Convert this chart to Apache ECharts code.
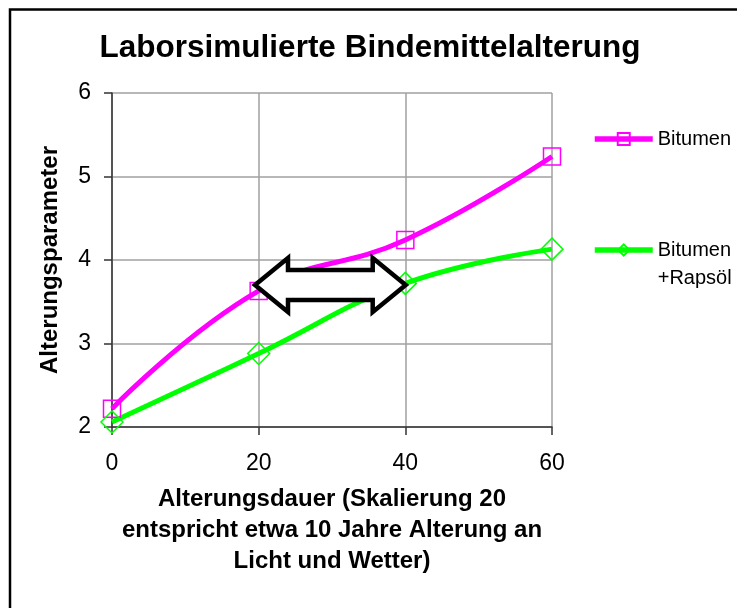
<!DOCTYPE html>
<html>
<head>
<meta charset="utf-8">
<script src="https://cdn.jsdelivr.net/npm/echarts@6/dist/echarts.min.js"></script>
<style>
  html, body { margin: 0; padding: 0; background: #fff; }
  #chart { width: 737px; height: 608px; }
</style>
</head>
<body>
<div id="chart"></div>
<script>
var xValues = [0, 20, 40, 60];
var bitumen = [2.22, 3.63, 4.24, 5.24];
var rapsoel = [2.06, 2.88, 3.72, 4.13];
var xTicks = [0, 20, 40, 60];
var yTicks = [2, 3, 4, 5, 6];
// double arrow between the curves, in data units
var arrowFrom = [19.5, 3.7];
var arrowTo = [40.05, 3.7];

var font = "'Liberation Sans', Arial, sans-serif";

function pairs(ys) {
  return xValues.map(function (x, i) { return [x, ys[i]]; });
}

var chart = echarts.init(document.getElementById("chart"));
chart.setOption({
  animation: false,
  textStyle: { fontFamily: font },
  title: {
    text: "Laborsimulierte Bindemittelalterung",
    left: 365,
    textAlign: "center",
    top: 27,
    textStyle: { fontSize: 31.5, fontWeight: "bold", color: "#000" }
  },
  legend: [
    {
      data: ["Bitumen"],
      left: 592,
      top: 129,
      padding: 0,
      itemWidth: 58,
      itemHeight: 15,
      itemGap: 0,
      lineStyle: { width: 5.5 },
      textStyle: { fontSize: 20, color: "#000" }
    },
    {
      data: ["Rapsoel"],
      left: 592,
      top: 208,
      padding: 0,
      itemWidth: 58,
      itemHeight: 14,
      itemGap: 0,
      lineStyle: { width: 5.5 },
      // empty first line so that "Bitumen" sits level with the icon
      formatter: function () { return " \nBitumen\n+Rapsöl"; },
      textStyle: { fontSize: 20, color: "#000", lineHeight: 28 }
    }
  ],
  grid: { left: 112, right: 185, top: 93, bottom: 181 },
  xAxis: {
    type: "value",
    min: 0,
    max: 60,
    interval: 20,
    name: "Alterungsdauer (Skalierung 20\nentspricht etwa 10 Jahre Alterung an\nLicht und Wetter)",
    nameLocation: "middle",
    nameGap: 57,
    nameTextStyle: { fontSize: 24, fontWeight: "bold", color: "#000", lineHeight: 31 },
    axisLine: { lineStyle: { color: "#333", width: 1.5 } },
    axisTick: { length: 8, lineStyle: { color: "#333", width: 1.5 } },
    axisLabel: { fontSize: 23, color: "#000", margin: 25 },
    splitLine: { show: true, lineStyle: { color: "#a0a0a0", width: 1.5 } }
  },
  yAxis: {
    type: "value",
    min: 2,
    max: 6,
    interval: 1,
    name: "Alterungsparameter",
    nameLocation: "middle",
    nameGap: 50,
    nameTextStyle: { fontSize: 24, fontWeight: "bold", color: "#000" },
    axisLine: { show: true, lineStyle: { color: "#333", width: 1.5 } },
    axisTick: { show: true, length: 8, lineStyle: { color: "#333", width: 1.5 } },
    axisLabel: { fontSize: 23, color: "#000", margin: 21 },
    splitLine: { show: true, lineStyle: { color: "#a0a0a0", width: 1.5 } }
  },
  series: [
    {
      name: "Bitumen",
      type: "line",
      smooth: 0.45,
      data: pairs(bitumen),
      symbol: "rect",
      symbolSize: 17,
      lineStyle: { color: "#ff00ff", width: 5 },
      itemStyle: { color: "rgba(0,0,0,0)", borderColor: "#ff00ff", borderWidth: 1.5 }
    },
    {
      name: "Rapsoel",
      type: "line",
      smooth: 0.45,
      data: pairs(rapsoel),
      symbol: "diamond",
      symbolSize: 22,
      lineStyle: { color: "#00ff00", width: 5 },
      itemStyle: { color: "rgba(0,0,0,0)", borderColor: "#00ff00", borderWidth: 1.5 }
    }
  ]
});

// block arrow, built from the axis scale
var a = chart.convertToPixel({ gridIndex: 0 }, arrowFrom);
var b = chart.convertToPixel({ gridIndex: 0 }, arrowTo);
var head = 33, halfHead = 27, halfShaft = 15;
var cy = a[1];
var arrowPts = [
  [a[0], cy],
  [a[0] + head, cy - halfHead],
  [a[0] + head, cy - halfShaft],
  [b[0] - head, cy - halfShaft],
  [b[0] - head, cy - halfHead],
  [b[0], cy],
  [b[0] - head, cy + halfHead],
  [b[0] - head, cy + halfShaft],
  [a[0] + head, cy + halfShaft],
  [a[0] + head, cy + halfHead]
];

chart.setOption({
  graphic: [
    {
      type: "rect",
      shape: { x: 10, y: 9.5, width: 760, height: 640 },
      style: { fill: "none", stroke: "#000", lineWidth: 2.5 },
      silent: true
    },
    {
      type: "polygon",
      z: 100,
      shape: { points: arrowPts },
      style: { fill: "#fff", stroke: "#000", lineWidth: 4.5, lineJoin: "miter" },
      silent: true
    }
  ]
});
</script>
</body>
</html>
